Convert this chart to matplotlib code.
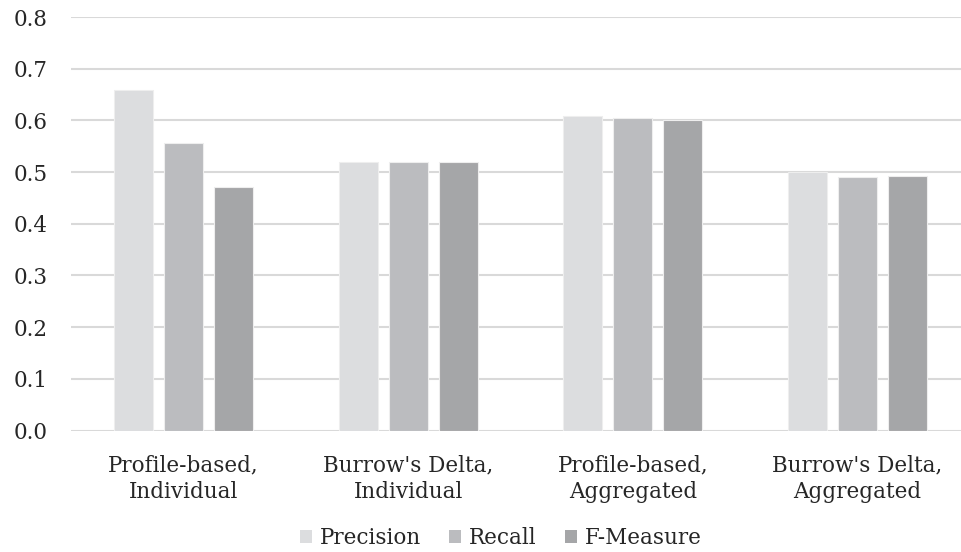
import matplotlib
matplotlib.use("Agg")
import matplotlib.pyplot as plt
import numpy as np
from matplotlib.patches import Patch

plt.rcParams['font.family'] = ['DejaVu Serif']

categories = ["Profile-based,\nIndividual", "Burrow's Delta,\nIndividual",
              "Profile-based,\nAggregated", "Burrow's Delta,\nAggregated"]
series = ["Precision", "Recall", "F-Measure"]
precision = [0.659, 0.520, 0.609, 0.500]
recall = [0.556, 0.520, 0.604, 0.491]
fmeasure = [0.471, 0.520, 0.600, 0.493]
colors = ["#dcdddf", "#bbbcbf", "#a5a6a8"]
yticks = [0.0, 0.1, 0.2, 0.3, 0.4, 0.5, 0.6, 0.7, 0.8]

fig = plt.figure(figsize=(9.61, 5.52), dpi=100)
ax = fig.add_axes([71 / 961, 121.5 / 552, 890 / 961, 413.5 / 552])

x = np.arange(len(categories))
w = 0.174
step = 0.2225
for i, (vals, c) in enumerate(zip([precision, recall, fmeasure], colors)):
    ax.bar(x + (i - 1) * step, vals, width=w, color=c, edgecolor="#eeeeee",
           linewidth=0.8, zorder=3)

ax.set_xlim(-0.5, 3.46)
ax.set_ylim(0, 0.8)
ax.set_yticks(yticks)
ax.set_yticklabels([f"{v:.1f}" for v in yticks])
ax.set_xticks(x)
ax.set_xticklabels(categories, linespacing=1.3)
ax.yaxis.grid(True, color="#d9d9d9", linewidth=1.5, zorder=0)
ax.set_axisbelow(True)
for s in ax.spines.values():
    s.set_visible(False)
ax.tick_params(axis="both", length=0, labelsize=15.5, colors="#262626")
ax.tick_params(axis="y", pad=16.5)
ax.tick_params(axis="x", pad=17)

handles = [Patch(facecolor=c, edgecolor="none", label=s) for s, c in zip(series, colors)]
fig.legend(handles=handles, loc="center", bbox_to_anchor=(0.521, 0.025), ncol=3,
           frameon=False, fontsize=15.5, handlelength=0.55, handleheight=0.55,
           handletextpad=0.35, columnspacing=1.33, labelcolor="#262626")

fig.savefig("out.png", dpi=100)
